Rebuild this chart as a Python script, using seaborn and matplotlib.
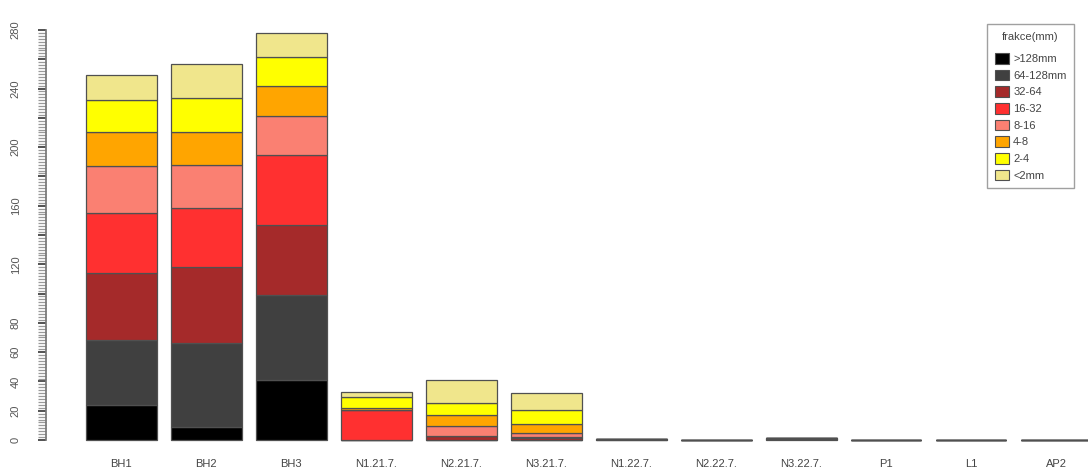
import pandas as pd
import matplotlib
matplotlib.use('Agg')
import matplotlib.pyplot as plt
from matplotlib.patches import Patch
import seaborn as sns

# sites (bars) and grain size fractions (stack layers, bottom -> top)
sites = ['BH1', 'BH2', 'BH3', 'N1.21.7.', 'N2.21.7.', 'N3.21.7.',
         'N1.22.7.', 'N2.22.7.', 'N3.22.7.', 'P1', 'L1', 'AP2']
fractions = ['>128mm', '64-128mm', '32-64', '16-32', '8-16', '4-8', '2-4', '<2mm']
colors = ['#000000', '#404040', '#A52A2A', '#FF3030', '#FA8072', '#FFA500', '#FFFF00', '#F0E68C']

# values per fraction, one per site
v_128 = [24.0, 9.1, 41.1, 0, 0, 0, 0, 0, 0.5, 0, 0, 0]
v_64_128 = [44.5, 57.1, 57.8, 0, 0, 0, 0.5, 0, 1.0, 0, 0, 0]
v_32_64 = [45.3, 52.1, 48.0, 0.3, 2.5, 1.5, 0, 0, 0, 0, 0, 0]
v_16_32 = [41.5, 39.8, 47.8, 20.0, 0.5, 0.3, 0, 0, 0, 0, 0, 0]
v_8_16 = [31.5, 29.9, 26.4, 0.5, 6.9, 2.7, 0, 0, 0, 0, 0, 0]
v_4_8 = [23.3, 22.1, 20.6, 1.2, 7.3, 6.4, 0, 0, 0, 0, 0, 0]
v_2_4 = [22.0, 23.6, 19.8, 7.2, 8.2, 9.6, 0, 0, 0, 0, 0, 0]
v_2 = [17.4, 23.3, 16.1, 3.5, 15.3, 11.4, 0, 0, 0, 0, 0, 0]

values = [v_128, v_64_128, v_32_64, v_16_32, v_8_16, v_4_8, v_2_4, v_2]

y_ticks = list(range(0, 281, 20))
y_labels = ['0', '20', '40', '60', '80', '', '120', '', '160', '', '200', '', '240', '', '280']

rows = []
for frac, vals in zip(fractions, values):
    for s, v in zip(sites, vals):
        rows.append({'site': s, 'frakce': frac, 'value': v})
df = pd.DataFrame(rows)

sns.set_theme(style='white')
plt.rcParams['font.family'] = ['Liberation Sans', 'DejaVu Sans']

fig = plt.figure(figsize=(10.88, 4.73), dpi=100)
ax = fig.add_axes([0.0421, 0.0357, 0.998, 0.9288])

bottom = [0.0] * len(sites)
for frac, col in zip(fractions, colors):
    sub = df[df['frakce'] == frac]
    sns.barplot(data=sub, x='site', y='value', order=sites, color=col, saturation=1,
                width=0.833, bottom=bottom, edgecolor='#505050', linewidth=0.9,
                errorbar=None, ax=ax)
    bottom = [b + v for b, v in zip(bottom, sub['value'].tolist())]

ax.set_xlim(-0.89, 11.89)
ax.set_ylim(-11, 289)
ax.set_xlabel('')
ax.set_ylabel('')

# axis styling (R-like)
for side in ['top', 'right', 'bottom']:
    ax.spines[side].set_visible(False)
ax.spines['left'].set_color('#777777')
ax.spines['left'].set_bounds(0, 280)
ax.set_yticks(y_ticks)
ax.set_yticklabels(y_labels, rotation=90, va='center', fontsize=8, color='#555555')
ax.set_yticks(list(range(0, 281, 2)), minor=True)
ax.tick_params(axis='y', which='major', length=6, width=1.3, color='#444444', pad=12, left=True)
ax.tick_params(axis='y', which='minor', length=6, width=0.9, color='#999999', left=True)
ax.tick_params(axis='x', length=0, labelsize=8, labelcolor='#444444', pad=2)

handles = [Patch(facecolor=c, edgecolor='#505050', linewidth=0.8) for c in colors]
leg = fig.legend(handles, fractions, title='frakce(mm)', loc='upper left',
                 bbox_to_anchor=(987 / 1088, 1 - 24 / 473), borderaxespad=0,
                 fontsize=8, title_fontsize=8,
                 frameon=True, fancybox=False, edgecolor='#888888', labelspacing=0.5,
                 handlelength=1.3, handleheight=1.1, handletextpad=0.35, borderpad=0.7,
                 labelcolor='#444444')
leg.get_frame().set_linewidth(1)
leg.get_title().set_color('#444444')
leg._legend_box.sep = 8

fig.savefig('out.png', dpi=100)
